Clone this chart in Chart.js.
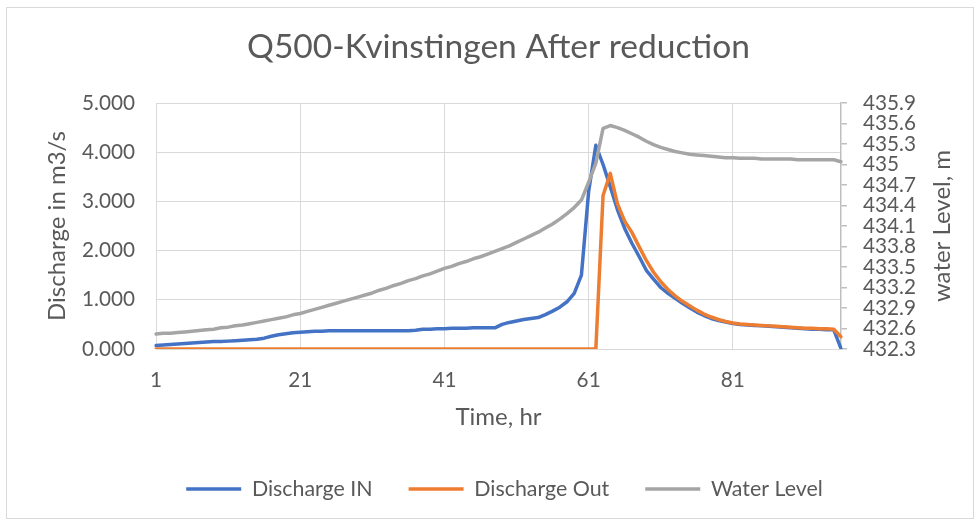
<!DOCTYPE html>
<html>
<head>
<meta charset="utf-8">
<script src="https://cdn.jsdelivr.net/npm/chart.js@4.4.1/dist/chart.umd.min.js"></script>
<style>
  html, body { margin: 0; padding: 0; background: #fff; }
  #wrap { position: relative; width: 979px; height: 524px; }
  #frame { position: absolute; left: 6px; top: 7px; width: 968px; height: 512px; border: 1px solid #d9d9d9; box-sizing: border-box; pointer-events: none; }
  canvas { position: absolute; left: 0; top: 0; }
</style>
</head>
<body>
<div id="wrap">
  <canvas id="waterChart" width="979" height="524"></canvas>
  <div id="frame"></div>
</div>
<script>
// Waktu (jam) pada sumbu X
const hours = [1,2,3,4,5,6,7,8,9,10,11,12,13,14,15,16,17,18,19,20,21,22,23,24,25,26,27,28,29,30,31,32,
  33,34,35,36,37,38,39,40,41,42,43,44,45,46,47,48,49,50,51,52,53,54,55,56,57,58,59,60,61,62,63,64,
  65,66,67,68,69,70,71,72,73,74,75,76,77,78,79,80,81,82,83,84,85,86,87,88,89,90,91,92,93,94,95,96];

// Debit masuk (m3/s)
const dischargeIn = [0.07,0.08,0.09,0.10,0.11,0.12,0.13,0.14,0.15,0.15,0.16,0.17,0.18,0.19,0.20,0.22,
  0.26,0.29,0.31,0.33,0.34,0.35,0.36,0.36,0.37,0.37,0.37,0.37,0.37,0.37,0.37,0.37,
  0.37,0.37,0.37,0.37,0.38,0.40,0.40,0.41,0.41,0.42,0.42,0.42,0.43,0.43,0.43,0.43,
  0.50,0.54,0.57,0.60,0.62,0.64,0.70,0.77,0.85,0.96,1.13,1.50,3.20,4.14,3.75,3.30,
  2.83,2.45,2.15,1.88,1.60,1.42,1.25,1.13,1.03,0.93,0.84,0.75,0.68,0.62,0.58,0.55,
  0.52,0.50,0.49,0.48,0.47,0.46,0.45,0.44,0.43,0.42,0.41,0.40,0.40,0.39,0.39,0.01];

// Debit keluar (m3/s)
const dischargeOut = [0,0,0,0,0,0,0,0,0,0,0,0,0,0,0,0,
  0,0,0,0,0,0,0,0,0,0,0,0,0,0,0,0,
  0,0,0,0,0,0,0,0,0,0,0,0,0,0,0,0,
  0,0,0,0,0,0,0,0,0,0,0,0,0,0,3.12,3.57,
  2.95,2.60,2.37,2.08,1.80,1.56,1.37,1.21,1.08,0.97,0.88,0.79,0.71,0.65,0.60,0.56,
  0.53,0.51,0.50,0.49,0.48,0.47,0.46,0.45,0.44,0.43,0.42,0.42,0.41,0.41,0.40,0.25];

// Level air (m)
const waterLevel = [432.52,432.53,432.53,432.54,432.55,432.56,432.57,432.58,432.59,432.61,432.62,432.64,432.65,432.67,432.69,432.71,
  432.73,432.75,432.77,432.80,432.82,432.85,432.88,432.91,432.94,432.97,433.00,433.03,433.06,433.09,433.12,433.16,
  433.19,433.23,433.26,433.30,433.33,433.37,433.40,433.44,433.48,433.51,433.55,433.58,433.62,433.65,433.69,433.73,
  433.77,433.81,433.86,433.91,433.96,434.01,434.07,434.13,434.20,434.28,434.37,434.48,434.74,435.02,435.53,435.57,
  435.54,435.50,435.45,435.40,435.34,435.29,435.25,435.22,435.19,435.17,435.15,435.14,435.13,435.12,435.11,435.10,
  435.10,435.09,435.09,435.09,435.08,435.08,435.08,435.08,435.08,435.07,435.07,435.07,435.07,435.07,435.07,435.04];

// Label sumbu
const dischargeTicks = ['0.000','1.000','2.000','3.000','4.000','5.000'];
const levelTicks = ['432.3','432.6','432.9','433.2','433.5','433.8','434.1','434.4','434.7','435','435.3','435.6','435.9'];

const chartTitle = 'Q500-Kvinstingen After reduction';
const xTitle = 'Time, hr';
const yTitle = 'Discharge in m3/s';
const y2Title = 'water Level, m';

const textColor = '#595959';
const gridColor = '#d9d9d9';
const FONT = 'Lato';

Chart.defaults.font.family = FONT;
Chart.defaults.color = textColor;

const canvas = document.getElementById('waterChart');
const ctx = canvas.getContext('2d');

// Ukuran font dicari agar lebar teks sama dengan gambar acuan
function fitSize(text, width) {
    ctx.font = '100px ' + FONT;
    return 100 * width / ctx.measureText(text).width;
}
const titleSize = fitSize(chartTitle, 503);
const tickSize = fitSize('5.000', 53);
const axisTitleSize = fitSize(yTitle, 190);
const legendSize = fitSize('Discharge Out', 135);

// Posisi (px) dari gambar acuan
const AREA_TOP = 103, AREA_BOTTOM = 349, AREA_LEFT = 156, AREA_RIGHT = 841;
const LEGEND_PAD = 36;
const titleLH = titleSize * 1.2, tickLH = tickSize * 1.2, axisLH = axisTitleSize * 1.2;
const titlePadTop = 47 - titleLH / 2;
const legendTop = 489 - LEGEND_PAD - legendSize / 2;
const legendHeight = legendSize + LEGEND_PAD + 10;
const xAxisHeight = legendTop - AREA_BOTTOM;

// Judul sumbu kanan dibaca dari bawah ke atas (seperti Excel)
const rightTitle = {
    id: 'rightTitle',
    afterLayout(chart) {
        // Geser legenda sedikit ke kanan seperti acuan
        chart.legend.left += 15;
        chart.legend.right += 15;
    },
    afterDraw(chart) {
        const c = chart.ctx;
        const area = chart.chartArea;
        c.save();
        c.translate(942, (area.top + area.bottom) / 2);
        c.rotate(-Math.PI / 2);
        c.font = axisTitleSize + 'px ' + FONT;
        c.fillStyle = textColor;
        c.textAlign = 'center';
        c.textBaseline = 'middle';
        c.fillText(y2Title, 0, 0);
        c.restore();
    }
};

new Chart(ctx, {
    type: 'line',
    data: {
        labels: hours,
        datasets: [{
            label: 'Discharge IN',
            data: dischargeIn,
            borderColor: '#4472c4',
            backgroundColor: '#4472c4',
            yAxisID: 'y',
            order: 2
        }, {
            label: 'Discharge Out',
            data: dischargeOut,
            borderColor: '#ed7d31',
            backgroundColor: '#ed7d31',
            yAxisID: 'y',
            order: 1
        }, {
            label: 'Water Level',
            data: waterLevel,
            borderColor: '#a5a5a5',
            backgroundColor: '#a5a5a5',
            yAxisID: 'y2',
            order: 0
        }]
    },
    options: {
        responsive: false,
        animation: false,
        layout: { padding: { left: 0, right: 0, top: 0, bottom: 524 - legendTop - legendHeight } },
        elements: {
            point: { radius: 0, borderWidth: 3.5 },
            line: { borderWidth: 3.5, tension: 0, borderCapStyle: 'round', borderJoinStyle: 'round' }
        },
        plugins: {
            title: {
                display: true,
                fullSize: false,
                text: chartTitle,
                color: textColor,
                font: { size: titleSize, weight: 'normal' },
                padding: { top: titlePadTop, bottom: AREA_TOP - titlePadTop - titleLH }
            },
            legend: {
                position: 'bottom',
                labels: {
                    usePointStyle: true,
                    pointStyle: 'line',
                    pointStyleWidth: 55,
                    padding: LEGEND_PAD,
                    color: textColor,
                    font: { size: legendSize },
                    sort: (a, b) => a.datasetIndex - b.datasetIndex
                }
            },
            tooltip: { enabled: false }
        },
        scales: {
            x: {
                type: 'category',
                offset: false,
                afterFit: s => { s.height = xAxisHeight; },
                grid: {
                    drawTicks: false,
                    color: c => (c.index % 20 === 0 ? gridColor : 'rgba(0,0,0,0)')
                },
                border: { color: gridColor },
                ticks: {
                    autoSkip: false,
                    maxRotation: 0,
                    padding: 380 - AREA_BOTTOM - tickLH / 2,
                    font: { size: tickSize },
                    callback: (v, i) => (i % 20 === 0 ? String(hours[i]) : '')
                },
                title: {
                    display: true,
                    text: xTitle,
                    font: { size: axisTitleSize },
                    padding: { top: 0, bottom: legendTop - 417 - axisLH / 2 }
                }
            },
            y: {
                position: 'left',
                min: 0,
                max: 5,
                afterFit: s => { s.width = AREA_LEFT; },
                grid: { drawTicks: false, color: gridColor },
                border: { color: gridColor },
                ticks: {
                    stepSize: 1,
                    autoSkip: false,
                    padding: 21,
                    font: { size: tickSize },
                    callback: (v, i) => dischargeTicks[i]
                },
                title: {
                    display: true,
                    text: yTitle,
                    font: { size: axisTitleSize },
                    padding: { top: 57 - axisLH / 2, bottom: 0 }
                }
            },
            y2: {
                position: 'right',
                min: 432.3,
                max: 435.9,
                afterFit: s => { s.width = 979 - AREA_RIGHT; },
                grid: { drawOnChartArea: false, drawTicks: true, tickLength: 6, color: '#bfbfbf', lineWidth: 1.5 },
                border: { color: '#bfbfbf', width: 1.5 },
                ticks: {
                    stepSize: 0.3,
                    autoSkip: false,
                    padding: 16,
                    font: { size: tickSize },
                    callback: (v, i) => levelTicks[i]
                }
            }
        }
    },
    plugins: [rightTitle]
});
</script>
</body>
</html>
